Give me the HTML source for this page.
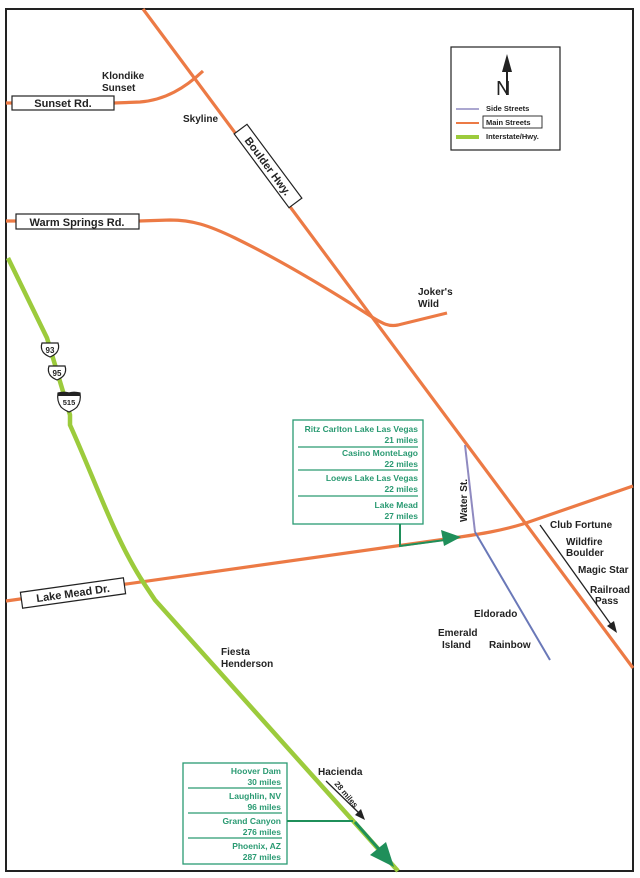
<!DOCTYPE html>
<html><head><meta charset="utf-8"><style>
html,body{margin:0;padding:0;background:#fff;}
svg{display:block;}
text{font-family:"Liberation Sans",Arial,sans-serif;font-weight:bold;}
.l{font-size:10px;fill:#222;}
.g{font-size:8.5px;fill:#2a9a72;}
</style></head><body>
<svg width="640" height="878" viewBox="0 0 640 878" xmlns="http://www.w3.org/2000/svg">
<rect x="0" y="0" width="640" height="878" fill="#fff"/>
<rect x="6" y="9" width="627" height="862" fill="none" stroke="#222" stroke-width="2"/>

<g fill="none" stroke="#ec7a45" stroke-width="3.2" stroke-linecap="butt">
<path d="M143,9 L633,668"/>
<path d="M6,103 L114,103 L140,102 C165,100 185,88 203,71"/>
<path d="M6,221 L139,221 L170,220 C192,220 208,225 235,238 C280,260 330,290 372,317 C382,323 388,327 398,325 L447,313"/>
<path d="M6,601 L460,537 C480,534 500,531 523,524 L633,486"/>
</g>
<path d="M465,445 L475,532" fill="none" stroke="#8f8ac0" stroke-width="2"/>
<path d="M475,532 L550,660" fill="none" stroke="#6a78b8" stroke-width="2"/>

<path d="M8,258 L47,338 L70,415 L70,425 C95,480 115,540 145,585 L155,600 L398,871" fill="none" stroke="#9ccb3c" stroke-width="4.5"/>
<path d="M355,822 L384,855" stroke="#1f8f5a" stroke-width="3" fill="none"/>
<polygon points="394,867 370,855 386,842" fill="#1f8f5a"/>

<g stroke="#222" stroke-width="1.2" fill="#fff">
<path d="M42,343 h16 c1,3 1,6 -1,9 c-2,3 -5,4 -7,5 c-2,-1 -5,-2 -7,-5 c-2,-3 -2,-6 -1,-9z"/>
<path d="M49,366 h16 c1,3 1,6 -1,9 c-2,3 -5,4 -7,5 c-2,-1 -5,-2 -7,-5 c-2,-3 -2,-6 -1,-9z"/>
<path d="M58,393 c4,-1 8,-1 11,0 c3,-1 7,-1 11,0 c1,6 0,10 -3,14 c-3,3 -6,4 -8,5 c-2,-1 -5,-2 -8,-5 c-3,-4 -4,-8 -3,-14z"/>
</g>
<path d="M58,393 c4,-1 8,-1 11,0 c3,-1 7,-1 11,0 l0,3 h-22z" fill="#222"/>
<text x="50" y="353" font-size="8" text-anchor="middle" fill="#222">93</text>
<text x="57" y="376" font-size="8" text-anchor="middle" fill="#222">95</text>
<text x="69" y="405" font-size="7.5" text-anchor="middle" fill="#222">515</text>

<g fill="#fff" stroke="#222" stroke-width="1.2">
<rect x="12" y="96" width="102" height="14"/>
<rect x="16" y="214" width="123" height="15"/>
</g>
<text x="63" y="107" font-size="11" text-anchor="middle" fill="#222">Sunset Rd.</text>
<text x="77" y="226" font-size="11" text-anchor="middle" fill="#222">Warm Springs Rd.</text>
<g transform="translate(268,166) rotate(53.4)">
<rect x="-46" y="-8" width="92" height="16" fill="#fff" stroke="#222" stroke-width="1.2"/>
<text x="0" y="4" font-size="11" text-anchor="middle" fill="#222">Boulder Hwy.</text>
</g>
<g transform="translate(73,593) rotate(-8)">
<rect x="-52" y="-8" width="104" height="16" fill="#fff" stroke="#222" stroke-width="1.2"/>
<text x="0" y="4" font-size="11" text-anchor="middle" fill="#222">Lake Mead Dr.</text>
</g>
<text transform="translate(467,522) rotate(-90)" font-size="10" fill="#222">Water St.</text>

<text class="l" x="102" y="79">Klondike</text>
<text class="l" x="102" y="91">Sunset</text>
<text class="l" x="183" y="122">Skyline</text>
<text class="l" x="418" y="295">Joker's</text>
<text class="l" x="418" y="307">Wild</text>
<text class="l" x="550" y="528">Club Fortune</text>
<text class="l" x="566" y="545">Wildfire</text>
<text class="l" x="566" y="556">Boulder</text>
<text class="l" x="578" y="573">Magic Star</text>
<text class="l" x="590" y="593">Railroad</text>
<text class="l" x="595" y="604">Pass</text>
<text class="l" x="474" y="617">Eldorado</text>
<text class="l" x="438" y="636">Emerald</text>
<text class="l" x="442" y="648">Island</text>
<text class="l" x="489" y="648">Rainbow</text>
<text class="l" x="221" y="655">Fiesta</text>
<text class="l" x="221" y="667">Henderson</text>
<text class="l" x="318" y="775">Hacienda</text>
<text transform="translate(334,784) rotate(50)" font-size="8" fill="#222">28 miles</text>

<path d="M540,525 L612,626" stroke="#222" stroke-width="1.3"/>
<polygon points="617,633 607,626 614,621" fill="#222"/>
<path d="M326,781 L360,814" stroke="#222" stroke-width="1.3"/>
<polygon points="365,820 355,815 361,809" fill="#222"/>

<rect x="451" y="47" width="109" height="103" fill="#fff" stroke="#222" stroke-width="1.2"/>
<text x="496" y="95" font-size="20" style="font-weight:normal" fill="#222">N</text>
<path d="M507,95 L507,66" stroke="#222" stroke-width="2"/>
<polygon points="507,54 502,72 512,72" fill="#222"/>
<path d="M456,109 h23" stroke="#8f8ac0" stroke-width="1.5"/>
<path d="M456,123 h23" stroke="#ec7a45" stroke-width="2"/>
<path d="M456,137 h23" stroke="#9ccb3c" stroke-width="4"/>
<rect x="483" y="116" width="59" height="12" fill="none" stroke="#222" stroke-width="0.9"/>
<text x="486" y="111" font-size="7.5" fill="#222">Side Streets</text>
<text x="486" y="125" font-size="7.5" fill="#222">Main Streets</text>
<text x="486" y="139" font-size="7.5" fill="#222">Interstate/Hwy.</text>

<g stroke="#2a9a72" fill="none" stroke-width="1.3">
<rect x="293" y="420" width="130" height="104" fill="#fff"/>
<path d="M298,447 h120 M298,470 h120 M298,496 h120"/>
</g>
<g text-anchor="end">
<text class="g" x="418" y="432">Ritz Carlton Lake Las Vegas</text>
<text class="g" x="418" y="443">21 miles</text>
<text class="g" x="418" y="456">Casino MonteLago</text>
<text class="g" x="418" y="467">22 miles</text>
<text class="g" x="418" y="481">Loews Lake Las Vegas</text>
<text class="g" x="418" y="492">22 miles</text>
<text class="g" x="418" y="508">Lake Mead</text>
<text class="g" x="418" y="519">27 miles</text>
</g>
<path d="M400,524 V546 L445,540" stroke="#1f8f5a" stroke-width="2" fill="none"/>
<polygon points="461,537 441,530 444,546" fill="#1f8f5a"/>

<g stroke="#2a9a72" fill="none" stroke-width="1.3">
<rect x="183" y="763" width="104" height="101" fill="#fff"/>
<path d="M188,788 h94 M188,813 h94 M188,838 h94"/>
</g>
<g text-anchor="end">
<text class="g" x="281" y="774">Hoover Dam</text>
<text class="g" x="281" y="785">30 miles</text>
<text class="g" x="281" y="799">Laughlin, NV</text>
<text class="g" x="281" y="810">96 miles</text>
<text class="g" x="281" y="824">Grand Canyon</text>
<text class="g" x="281" y="835">276 miles</text>
<text class="g" x="281" y="849">Phoenix, AZ</text>
<text class="g" x="281" y="860">287 miles</text>
</g>
<path d="M287,821 H353" stroke="#1f8f5a" stroke-width="2"/>
</svg>
</body></html>
